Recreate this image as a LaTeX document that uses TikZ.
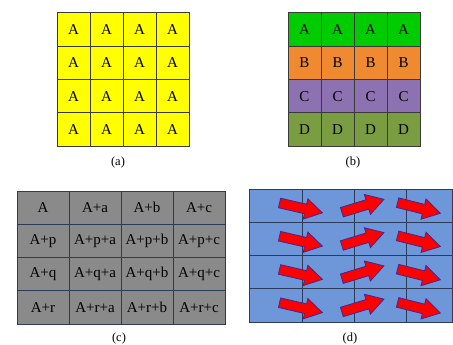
\documentclass[tikz,border=0pt]{standalone}
\usepackage{fontspec}
\setmainfont{Liberation Serif}
\usetikzlibrary{shapes.arrows}

\definecolor{cellyellow}{HTML}{FFFF00}
\definecolor{rowgreen}{HTML}{00CC00}
\definecolor{roworange}{HTML}{F08A30}
\definecolor{rowpurple}{HTML}{8C72B0}
\definecolor{rowolive}{HTML}{7A9D42}
\definecolor{cellgray}{HTML}{8A8A8A}
\definecolor{cellblue}{HTML}{6E97D9}
\definecolor{gridline}{HTML}{3A3A3A}
\definecolor{navyline}{HTML}{2C3B58}
\definecolor{arrowedge}{HTML}{3A2A9A}

\tikzset{
  cell/.style={draw=gridline,line width=1pt},
  navycell/.style={draw=navyline,line width=1pt},
  flow/.style={single arrow,fill=red,draw=arrowedge,line width=0.8pt,
    minimum height=44pt,minimum width=20pt,inner sep=4.5pt,
    single arrow tip angle=62,single arrow head extend=5.5pt},
  caption/.style={font=\fontsize{12.5}{14}\selectfont}
}

\begin{document}
\begin{tikzpicture}[x=1pt,y=-1pt,font=\fontsize{15}{17}\selectfont]
    \useasboundingbox (0,0) rectangle (453,345);

    % (a) every block the same
    \foreach \row in {0,...,3}
      \foreach \col in {0,...,3}
        \draw[cell,fill=cellyellow] ({57+33*\col},{13+33.25*\row})
          rectangle ++(33,33.25) node[midway] (a-\row-\col) {A};
    \node[caption] (lab-a) at (118,162) {(a)};

    % (b) one colour per row
    \foreach \row/\letter/\shade in {0/A/rowgreen,1/B/roworange,
        2/C/rowpurple,3/D/rowolive}
      \foreach \col in {0,...,3}
        \draw[cell,fill=\shade] ({288+33*\col},{13+33.25*\row})
          rectangle ++(33,33.25) node[midway] (b-\row-\col) {\letter};
    \node[caption] (lab-b) at (353,162) {(b)};

    % (c) row and column offsets
    \foreach \row/\pre in {0/A,1/A+p,2/A+q,3/A+r}
      \foreach \col/\suf in {0/{},1/+a,2/+b,3/+c}
        \draw[navycell,fill=cellgray] ({17+52*\col},{191+33.25*\row})
          rectangle ++(52,33.25) node[midway] (c-\row-\col) {\pre\suf};
    \node[caption] (lab-c) at (119,338) {(c)};

    % (d) blocks with motion vectors
    \foreach \row in {0,...,3}
      \foreach \x/\w in {249/53,302/52,354/52,406/46}
        \draw[navycell,fill=cellblue] (\x,{189+33.25*\row})
          rectangle ++(\w,33.25);
    \foreach \row in {0,...,3}
      \foreach \x/\ang in {297/-13,359/17,415/-14}
        \node[flow,rotate=\ang] (d-\row-\x) at (\x,{207+33.25*\row}) {};
    \node[caption] (lab-d) at (350,338) {(d)};
\end{tikzpicture}
\end{document}
